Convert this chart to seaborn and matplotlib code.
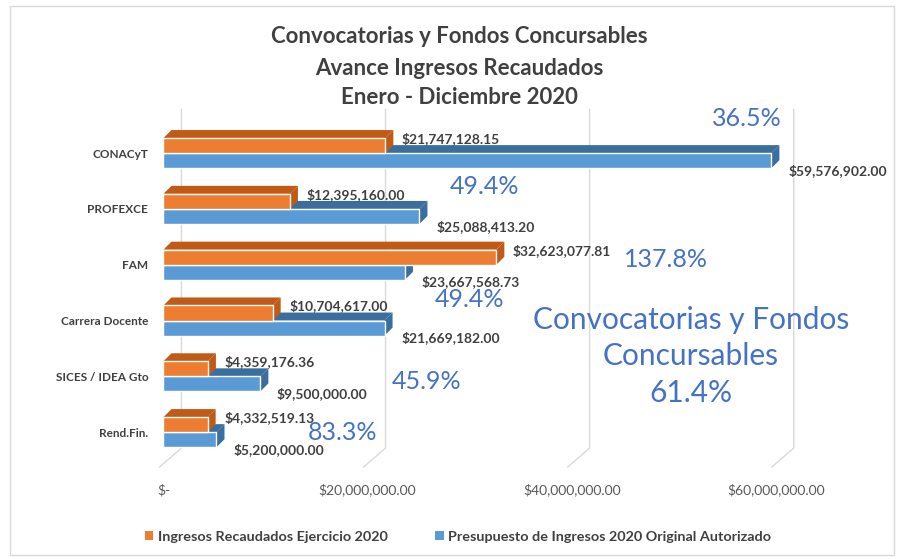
import pandas as pd
import seaborn as sns
import matplotlib.pyplot as plt
from matplotlib.patches import Polygon, Rectangle, Patch
from matplotlib.lines import Line2D
from matplotlib.transforms import IdentityTransform
from matplotlib.ticker import FuncFormatter

# datos
categorias = ['CONACyT', 'PROFEXCE', 'FAM', 'Carrera Docente', 'SICES / IDEA Gto', 'Rend.Fin.']
recaudados = [21747128.15, 12395160.00, 32623077.81, 10704617.00, 4359176.36, 4332519.13]
presupuesto = [59576902.00, 25088413.20, 23667568.73, 21669182.00, 9500000.00, 5200000.00]
avance = ['36.5%', '49.4%', '137.8%', '49.4%', '45.9%', '83.3%']
avance_total = '61.4%'
series = ['Ingresos Recaudados Ejercicio 2020', 'Presupuesto de Ingresos 2020 Original Autorizado']
ticks_x = [0, 20e6, 40e6, 60e6]

df = pd.DataFrame({
    'Programa': categorias * 2,
    'Monto': recaudados + presupuesto,
    'Serie': [series[0]] * len(categorias) + [series[1]] * len(categorias),
})

naranja, naranja_osc = '#ED7D31', '#C15A17'
azul, azul_osc = '#5B9BD5', '#3A6E9E'
gris = '#404040'

sns.set_style('white')
plt.rcParams['font.family'] = ['Lato', 'DejaVu Sans']

fig = plt.figure(figsize=(8.98, 5.59), dpi=100)
ax = fig.add_axes([0.182, 0.177, 0.75, 0.599])

sns.barplot(data=df, y='Programa', x='Monto', hue='Serie', hue_order=series,
            palette=[naranja, azul], orient='h', width=0.54, order=categorias,
            legend=False, ax=ax, saturation=1)

ax.set_xlim(0, 66e6)
ax.set_ylim(5.5, -0.5)
ax.set_xticks(ticks_x)
ax.xaxis.set_major_formatter(FuncFormatter(lambda v, p: '$-' if v == 0 else f'${v:,.2f}'))
ax.tick_params(axis='x', length=0, pad=17, labelsize=10, labelcolor='#595959')
ax.tick_params(axis='y', length=0, pad=11, labelsize=8.5, labelcolor=gris)
for t in ax.get_yticklabels():
    t.set_fontweight('bold')
ax.set_xlabel('')
ax.set_ylabel('')
ax.grid(False)
for s in ax.spines.values():
    s.set_visible(False)

fig.canvas.draw()

# lineas de cuadricula en la pared del fondo (3D)
ax_bb = ax.get_window_extent()
y_piso = ax_bb.y0 - 7
for v in ticks_x:
    xf = ax.transData.transform((v, 0))[0]
    ln = Line2D([xf - 4, xf + 18, xf + 18], [y_piso, y_piso + 19, ax_bb.y1 + 16],
                color='#D9D9D9', lw=1, transform=IdentityTransform(), clip_on=False, zorder=1)
    ax.add_artist(ln)

# efecto 3D a partir de las barras dibujadas
dx, dy = 8, 8
n = len(categorias)
barras = ax.patches[:2 * n]
for i, p in enumerate(barras):
    es_naranja = i < n
    oscuro = naranja_osc if es_naranja else azul_osc
    bb = p.get_window_extent()
    x0, x1, y0, y1 = bb.x0, bb.x1, bb.y0, bb.y1
    z = 2.2 if not es_naranja else 2.6
    top = Polygon([(x0, y1), (x1, y1), (x1 + dx, y1 + dy), (x0 + dx, y1 + dy)],
                  closed=True, fc=oscuro, ec='none')
    side = Polygon([(x1, y0), (x1, y1), (x1 + dx, y1 + dy), (x1 + dx, y0 + dy)],
                   closed=True, fc=oscuro, ec='none')
    for poly in (top, side):
        poly.set_transform(IdentityTransform())
        poly.set_clip_on(False)
        poly.set_zorder(z)
        ax.add_artist(poly)
    p.set_zorder(2.8 if es_naranja else 2.4)

# etiquetas de valor
for i, p in enumerate(barras):
    es_naranja = i < n
    val = p.get_width()
    yc = p.get_y() + p.get_height() / 2
    off = (12, 5) if es_naranja else (12, -7)
    ax.annotate(f'${val:,.2f}', (val, yc), xytext=off, textcoords='offset points',
                ha='left', va='center', fontsize=10, fontweight='bold', color=gris, zorder=6)

# porcentajes de avance
pos_avance = [(57.2e6, -0.62), (31.5e6, 0.6), (49.2e6, 1.9), (30.0e6, 2.62), (25.8e6, 4.1), (17.5e6, 5.0)]
for txt, (xv, yv) in zip(avance, pos_avance):
    ax.text(xv, yv, txt, fontsize=18, color='#4472C4', ha='center', va='center', zorder=6)

ax.text(51.7e6, 3.64, 'Convocatorias y Fondos\nConcursables\n' + avance_total,
        fontsize=21.5, color='#4472C4', ha='center', va='center', linespacing=1.38, zorder=6)

fig.text(0.512, 0.935, 'Convocatorias y Fondos Concursables', ha='center', va='center',
         fontsize=16, fontweight='bold', color=gris)
fig.text(0.512, 0.878, 'Avance Ingresos Recaudados', ha='center', va='center',
         fontsize=16, fontweight='bold', color=gris)
fig.text(0.512, 0.825, 'Enero - Diciembre 2020', ha='center', va='center',
         fontsize=16, fontweight='bold', color=gris)

handles = [Patch(fc=naranja, ec='none'), Patch(fc=azul, ec='none')]
leg = fig.legend(handles, series, loc='center', bbox_to_anchor=(0.51, 0.04), ncol=2, frameon=False,
                 fontsize=10.4, handlelength=0.6, handleheight=0.6, handletextpad=0.3, columnspacing=3.3,
                 labelcolor=gris)
for t in leg.get_texts():
    t.set_fontweight('bold')

fig.add_artist(Rectangle((0.011, 0.008), 0.984, 0.982, transform=fig.transFigure,
                         fill=False, ec='#D9D9D9', lw=1))

fig.savefig('out.png', dpi=100)
